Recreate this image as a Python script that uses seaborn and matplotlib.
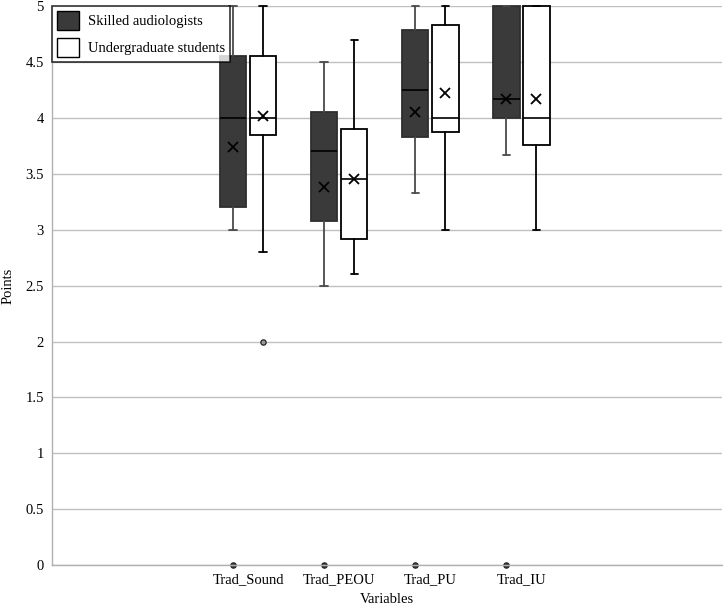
import matplotlib
matplotlib.use("Agg")
import matplotlib.pyplot as plt
from matplotlib.patches import Patch
import numpy as np
import seaborn as sns

sns.set_style("whitegrid")
plt.rcParams["font.family"] = ["Liberation Serif", "DejaVu Serif"]

categories = ["Trad_Sound", "Trad_PEOU", "Trad_PU", "Trad_IU"]
groups = ["Skilled audiologists", "Undergraduate students"]

skilled_low = [3.0, 2.5, 3.33, 3.67]
skilled_q1 = [3.2, 3.08, 3.83, 4.0]
skilled_med = [4.0, 3.7, 4.25, 4.17]
skilled_q3 = [4.55, 4.05, 4.79, 5.0]
skilled_high = [5.0, 4.5, 5.0, 5.0]
skilled_mean = [3.74, 3.38, 4.05, 4.17]
skilled_out = [[0.0], [0.0], [0.0], [0.0]]

students_low = [2.8, 2.6, 3.0, 3.0]
students_q1 = [3.85, 2.92, 3.87, 3.76]
students_med = [4.0, 3.45, 4.0, 4.0]
students_q3 = [4.55, 3.9, 4.83, 5.0]
students_high = [5.0, 4.7, 5.0, 5.0]
students_mean = [4.02, 3.45, 4.22, 4.17]
students_out = [[2.0], [], [], []]


def make_stats(low, q1, med, q3, high, mean, out):
    return [
        {"whislo": a, "q1": b, "med": c, "q3": d, "whishi": e, "mean": m, "fliers": f}
        for a, b, c, d, e, m, f in zip(low, q1, med, q3, high, mean, out)
    ]


skilled = make_stats(skilled_low, skilled_q1, skilled_med, skilled_q3, skilled_high, skilled_mean, skilled_out)
students = make_stats(students_low, students_q1, students_med, students_q3, students_high, students_mean, students_out)

fig = plt.figure(figsize=(7.24, 6.13), dpi=100)
ax = fig.add_axes([0.072, 0.078, 0.925, 0.912])

x = np.arange(len(categories))
offset = 0.165
box_w = 0.29

styles = [
    (skilled, -offset, "#3a3a3a", "#2e2e2e", "#4a4a4a", "#444444"),
    (students, offset, "white", "black", "black", "#9a9a9a"),
]
for stats, dx, face, edge, whisk, flier_face in styles:
    parts = ax.bxp(
        stats,
        positions=x + dx,
        widths=box_w,
        capwidths=0.08,
        patch_artist=True,
        showmeans=True,
        manage_ticks=False,
        boxprops=dict(facecolor=face, edgecolor=edge, linewidth=1.3),
        medianprops=dict(color="black", linewidth=1.2),
        whiskerprops=dict(color=whisk, linewidth=1.3),
        capprops=dict(color=whisk, linewidth=1.3),
        meanprops=dict(marker="x", markeredgecolor="black", markersize=7, markeredgewidth=1.3),
        flierprops=dict(marker="o", markersize=3.8, markerfacecolor=flier_face,
                        markeredgecolor="#222222", markeredgewidth=0.9),
    )
    for artists in parts.values():
        for artist in artists:
            artist.set_clip_on(False)

ax.set_xlim(-2.15, 5.2)
ax.set_ylim(0, 5)
ax.set_yticks(np.arange(0, 5.01, 0.5))
ax.set_yticklabels([f"{v:g}" for v in np.arange(0, 5.01, 0.5)], fontsize=10.5)
ax.set_xticks(x)
ax.set_xticklabels(categories, fontsize=10.5)
ax.grid(axis="x", visible=False)
ax.grid(axis="y", color="#c0c0c0", linewidth=1.0)
ax.set_axisbelow(True)
for side in ["top", "right"]:
    ax.spines[side].set_visible(False)
for side in ["left", "bottom"]:
    ax.spines[side].set_color("#b0b0b0")
    ax.spines[side].set_linewidth(1.0)
ax.tick_params(axis="both", length=0, pad=6)
ax.tick_params(axis="both", labelcolor="black")
ax.set_xlabel("Variables", fontsize=10.5, labelpad=5, color="black")
ax.set_ylabel("Points", fontsize=10.5, labelpad=8, color="black")

handles = [
    Patch(facecolor="#3a3a3a", edgecolor="black", label=groups[0]),
    Patch(facecolor="white", edgecolor="black", label=groups[1]),
]
leg = ax.legend(handles=handles, loc="upper left", bbox_to_anchor=(0.0, 1.0),
                fontsize=10.5, frameon=True, fancybox=False, borderaxespad=0.0,
                handlelength=1.5, handleheight=1.6, handletextpad=0.6,
                borderpad=0.35, labelspacing=0.55)
leg.get_frame().set_edgecolor("black")
leg.get_frame().set_linewidth(1.2)
for t in leg.get_texts():
    t.set_color("black")

fig.savefig("out.png", dpi=100)
